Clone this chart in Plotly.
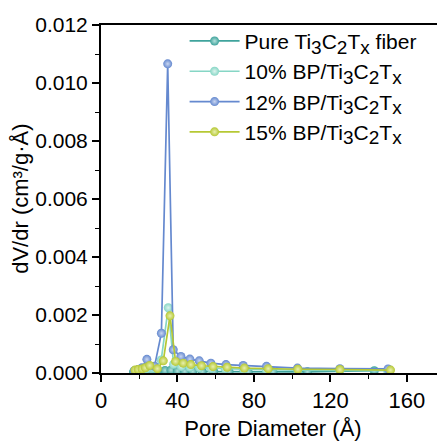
import plotly.graph_objects as go

# ---- data ----
def sub(t):
    return "<sub><span style='font-size:19px'>" + t + "</span></sub>"

mx = "Ti" + sub("3") + "C" + sub("2") + "T" + sub("x")
names = ["Pure " + mx + " fiber",
         "10% BP/" + mx,
         "12% BP/" + mx,
         "15% BP/" + mx]

x_pure = [17.0, 19.0, 21.0, 23.0, 26.0, 29.5, 33.5, 36.6, 40.0, 43.8, 48.0, 53.0, 59.0, 67.0, 77.0, 90.0, 108.0, 143.0]
y_pure = [0.00004, 0.00005, 0.00005, 0.00006, 0.00007, 0.00008, 0.00009, 0.00010, 0.00007, 0.00006,
          0.00006, 0.00005, 0.00005, 0.00005, 0.00004, 0.00004, 0.00004, 0.00008]

x_10 = [17.5, 19.5, 21.5, 24.0, 27.5, 31.5, 35.2, 38.0, 42.0, 46.5, 51.5, 57.5, 65.0, 74.5, 86.5, 103.0, 125.0, 150.0]
y_10 = [0.00008, 0.00010, 0.00012, 0.00015, 0.00016, 0.00045, 0.00225, 0.00030, 0.00022, 0.00020,
        0.00018, 0.00016, 0.00015, 0.00013, 0.00011, 0.00010, 0.00009, 0.00008]

x_12 = [17.5, 19.5, 21.5, 24.0, 28.0, 31.6, 34.9, 37.8, 41.8, 46.5, 51.4, 57.5, 65.4, 74.4, 86.6, 102.8, 125.0, 150.2]
y_12 = [0.00008, 0.00012, 0.00018, 0.00047, 0.00023, 0.00137, 0.01066, 0.00080, 0.00057, 0.00048,
        0.00042, 0.00034, 0.00029, 0.00026, 0.00023, 0.00017, 0.00015, 0.00014]

x_15 = [17.8, 19.5, 21.5, 23.2, 25.5, 29.5, 32.6, 36.1, 39.0, 43.0, 47.0, 52.6, 58.6, 66.0, 75.0, 87.5, 103.0, 125.0, 151.5]
y_15 = [0.00010, 0.00012, 0.00014, 0.00018, 0.00026, 0.00015, 0.00042, 0.00197, 0.00040, 0.00034,
        0.00029, 0.00025, 0.00022, 0.00020, 0.00017, 0.00015, 0.00013, 0.00012, 0.00010]

x_ticks = [0, 40, 80, 120, 160]
y_ticks = [0, 0.002, 0.004, 0.006, 0.008, 0.010, 0.012]
y_ticklabels = ["0.000", "0.002", "0.004", "0.006", "0.008", "0.010", "0.012"]

x_title = "Pore Diameter (Å)"
y_title = "dV/dr (cm³/g·Å)"

colors = ["#3FA39C", "#86D6C5", "#6589CF", "#B6C834"]
highlights = ["#B5E1DC", "#DDF4EE", "#C9D6F1", "#E8F0B0"]

xs = [x_pure, x_10, x_12, x_15]
ys = [y_pure, y_10, y_12, y_15]

fig = go.Figure()
for n, x, y, c, h in zip(names, xs, ys, colors, highlights):
    fig.add_trace(go.Scatter(
        x=x, y=y, name=n, mode="lines+markers",
        line=dict(color=c, width=1.7),
        marker=dict(color=c, size=9, gradient=dict(type="radial", color=h),
                    line=dict(width=0)),
    ))

font_family = "Liberation Sans, Arial, sans-serif"
fig.update_layout(
    width=437, height=433,
    margin=dict(l=93, r=0, t=17, b=66),
    plot_bgcolor="white", paper_bgcolor="white",
    font=dict(family=font_family, size=22, color="black"),
    showlegend=True,
    legend=dict(x=0.243, y=1.012, xanchor="left", yanchor="top",
                bgcolor="rgba(0,0,0,0)", font=dict(size=21),
                tracegroupgap=0, itemwidth=50),
    xaxis=dict(
        range=[0, 180], tickmode="array", tickvals=x_ticks,
        ticks="outside", ticklen=7, tickwidth=1.5, tickcolor="black",
        showline=True, linecolor="black", linewidth=2, mirror=True,
        showgrid=False, zeroline=False,
        minor=dict(tickvals=[20, 60, 100, 140], ticks="outside", ticklen=4, tickwidth=1.2, tickcolor="black"),
        title=dict(text=x_title, font=dict(size=22), standoff=12),
        tickfont=dict(size=22),
    ),
    yaxis=dict(
        range=[0, 0.012], tickmode="array",
        tickvals=y_ticks, ticktext=y_ticklabels,
        ticks="outside", ticklen=7, tickwidth=1.5, tickcolor="black",
        showline=True, linecolor="black", linewidth=2, mirror=False,
        showgrid=False, zeroline=False,
        minor=dict(tickvals=[0.001, 0.003, 0.005, 0.007, 0.009, 0.011], ticks="outside", ticklen=4, tickwidth=1.2, tickcolor="black"),
        tickfont=dict(size=21),
    ),
    annotations=[dict(
        text=y_title, textangle=-90, xref="paper", yref="paper",
        x=-0.236, y=0.5, xanchor="center", yanchor="middle",
        showarrow=False, font=dict(size=22),
    )],
)

fig.write_html("out.html")
